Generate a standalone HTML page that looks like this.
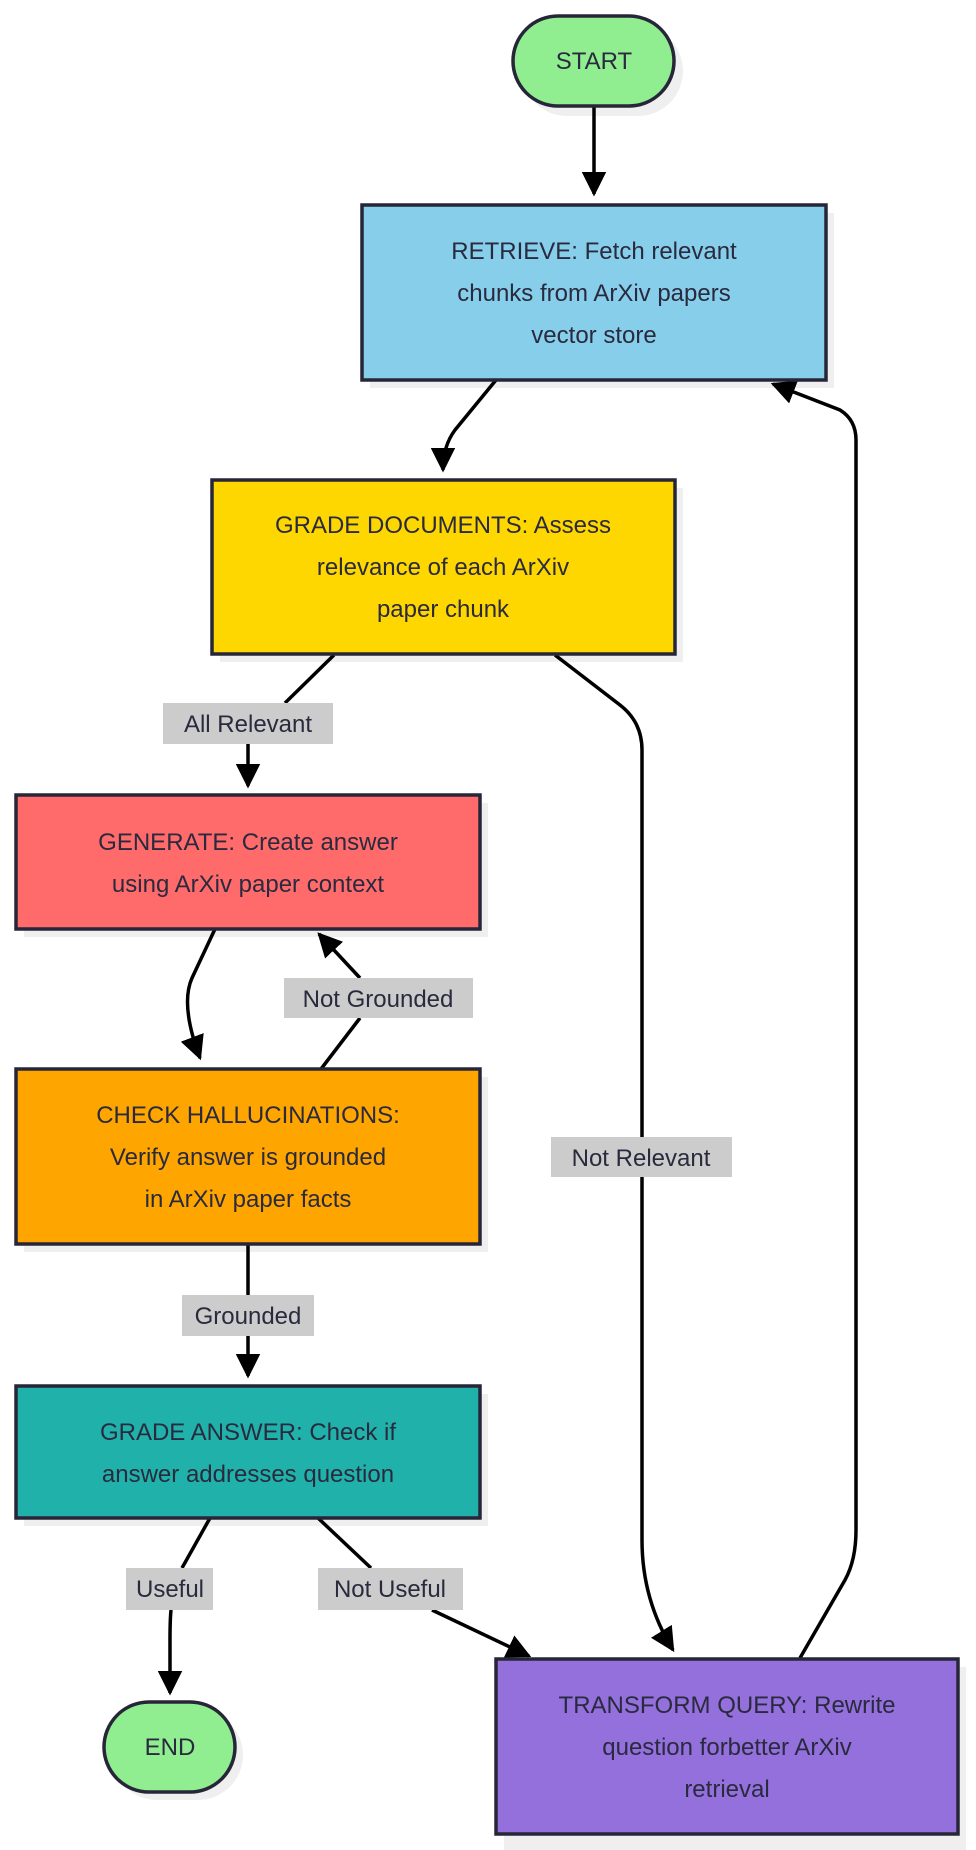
<!DOCTYPE html>
<html><head><meta charset="utf-8"><style>
html,body{margin:0;padding:0;background:#fff;}
svg{display:block;}
text{font-family:"Liberation Sans",sans-serif;font-size:24px;fill:#2a2a3e;text-anchor:middle;}
.n{stroke:#262638;stroke-width:3.5;}
.sh{fill:#efefef;}
.e{fill:none;stroke:#000;stroke-width:3.5;}
.lb{fill:#cccccc;}
</style></head><body>
<svg width="976" height="1850" viewBox="0 0 976 1850" xmlns="http://www.w3.org/2000/svg">
<defs><marker id="a" viewBox="0 0 10 10" refX="9" refY="5" markerWidth="7" markerHeight="7" orient="auto-start-reverse" markerUnits="strokeWidth"><path d="M0,0 L10,5 L0,10 z" fill="#000"/></marker></defs>

<!-- shadows -->
<rect class="sh" x="522" y="26" width="161" height="90" rx="45"/>
<rect class="sh" x="370" y="213" width="464" height="175"/>
<rect class="sh" x="220" y="488" width="463" height="174"/>
<rect class="sh" x="24" y="803" width="464" height="134"/>
<rect class="sh" x="24" y="1077" width="464" height="175"/>
<rect class="sh" x="24" y="1394" width="464" height="132"/>
<rect class="sh" x="112" y="1710" width="131" height="90" rx="45"/>
<rect class="sh" x="504" y="1667" width="462" height="183"/>

<!-- edges -->
<path class="e" d="M594,106 L594,194" marker-end="url(#a)"/>
<path class="e" d="M496,380 L455,430 Q443,446 443,470" marker-end="url(#a)"/>
<path class="e" d="M334,655 L285,703"/>
<path class="e" d="M248,744 L248,786" marker-end="url(#a)"/>
<path class="e" d="M555,655 L620,705 Q642,722 642,750 L642,1540 Q642,1600 673,1650" marker-end="url(#a)"/>
<path class="e" d="M215,929 L192,978 Q180,1005 200,1058" marker-end="url(#a)"/>
<path class="e" d="M321,1069 L360,1018"/>
<path class="e" d="M360,978 L319,934" marker-end="url(#a)"/>
<path class="e" d="M248,1244 L248,1295"/>
<path class="e" d="M248,1336 L248,1376" marker-end="url(#a)"/>
<path class="e" d="M210,1518 L182,1568"/>
<path class="e" d="M171,1610 Q170,1620 170,1640 L170,1693" marker-end="url(#a)"/>
<path class="e" d="M318,1518 L371,1568"/>
<path class="e" d="M432,1610 L529,1656" marker-end="url(#a)"/>
<path class="e" d="M800,1658 L845,1580 Q856,1560 856,1530 L856,440 Q856,420 840,410 L773,384" marker-end="url(#a)"/>

<!-- labels -->
<rect class="lb" x="163" y="703" width="170" height="41"/><text x="248" y="732">All Relevant</text>
<rect class="lb" x="284" y="978" width="189" height="40"/><text x="378" y="1007">Not Grounded</text>
<rect class="lb" x="551" y="1137" width="181" height="40"/><text x="641" y="1166">Not Relevant</text>
<rect class="lb" x="182" y="1295" width="132" height="41"/><text x="248" y="1324">Grounded</text>
<rect class="lb" x="126" y="1568" width="87" height="42"/><text x="170" y="1597">Useful</text>
<rect class="lb" x="318" y="1568" width="145" height="42"/><text x="390" y="1597">Not Useful</text>

<!-- nodes -->
<rect class="n" x="513" y="16" width="161" height="90" rx="45" fill="#90ee90"/>
<text x="594" y="69">START</text>
<rect class="n" x="362" y="205" width="464" height="175" fill="#87ceeb"/>
<text x="594" y="259">RETRIEVE: Fetch relevant</text>
<text x="594" y="301">chunks from ArXiv papers</text>
<text x="594" y="343">vector store</text>
<rect class="n" x="212" y="480" width="463" height="174" fill="#ffd700"/>
<text x="443" y="533">GRADE DOCUMENTS: Assess</text>
<text x="443" y="575">relevance of each ArXiv</text>
<text x="443" y="617">paper chunk</text>
<rect class="n" x="16" y="795" width="464" height="134" fill="#ff6b6b"/>
<text x="248" y="850">GENERATE: Create answer</text>
<text x="248" y="892">using ArXiv paper context</text>
<rect class="n" x="16" y="1069" width="464" height="175" fill="#ffa500"/>
<text x="248" y="1123">CHECK HALLUCINATIONS:</text>
<text x="248" y="1165">Verify answer is grounded</text>
<text x="248" y="1207">in ArXiv paper facts</text>
<rect class="n" x="16" y="1386" width="464" height="132" fill="#20b2aa"/>
<text x="248" y="1440">GRADE ANSWER: Check if</text>
<text x="248" y="1482">answer addresses question</text>
<rect class="n" x="104" y="1702" width="131" height="90" rx="45" fill="#90ee90"/>
<text x="170" y="1755">END</text>
<rect class="n" x="496" y="1659" width="462" height="175" fill="#9370db"/>
<text x="727" y="1713">TRANSFORM QUERY: Rewrite</text>
<text x="727" y="1755">question forbetter ArXiv</text>
<text x="727" y="1797">retrieval</text>
</svg>
</body></html>
